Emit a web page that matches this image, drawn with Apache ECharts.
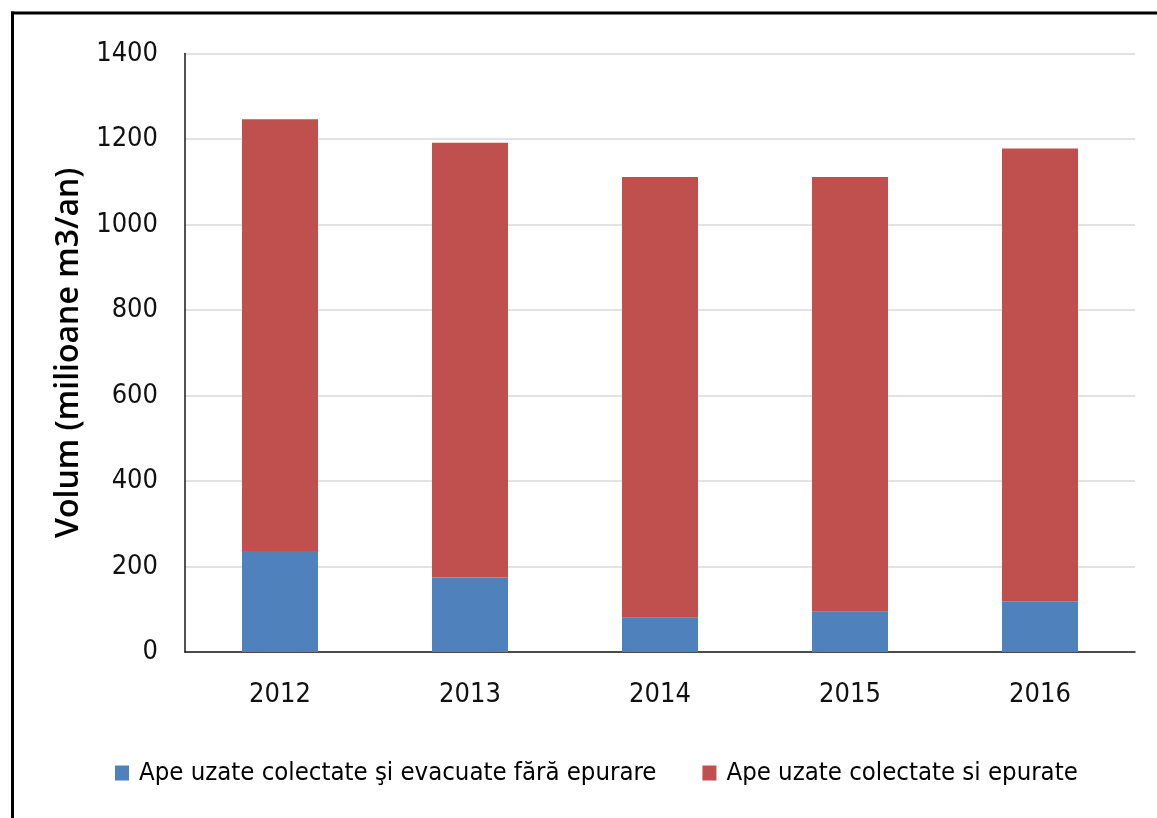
<!DOCTYPE html>
<html>
<head>
<meta charset="utf-8">
<script src="https://cdn.jsdelivr.net/npm/echarts@6/dist/echarts.min.js"></script>
<style>
html,body{margin:0;padding:0;background:#fff;}
#c{width:1157px;height:818px;}
</style>
</head>
<body>
<div id="c"></div>
<script>
const years = ['2012', '2013', '2014', '2015', '2016'];
const untreated = [236, 174, 80, 94, 119];
const treated = [1010, 1017, 1031, 1017, 1059];
const seriesNames = ['Ape uzate colectate şi evacuate fără epurare', 'Ape uzate colectate si epurate'];
const yTicks = [0, 200, 400, 600, 800, 1000, 1200, 1400];
const yTitle = 'Volum (milioane m3/an)';

const chart = echarts.init(document.getElementById('c'), null, {renderer: 'canvas'});
const narrow = '"Liberation Sans Narrow", "DejaVu Sans Condensed", sans-serif';
chart.setOption({
  animation: false,
  backgroundColor: '#ffffff',
  graphic: [
    {type: 'line', shape: {x1: 11, y1: 13, x2: 1157, y2: 13}, style: {stroke: '#000', lineWidth: 3}},
    {type: 'line', shape: {x1: 12.5, y1: 11.5, x2: 12.5, y2: 818}, style: {stroke: '#000', lineWidth: 3}}
  ],
  grid: {left: 185, top: 53.5, right: 22, bottom: 166, containLabel: false},
  legend: {
    left: 110, top: 755,
    itemWidth: 14, itemHeight: 15, itemGap: 46,
    icon: 'rect',
    textStyle: {fontFamily: narrow, fontSize: 25.5, color: '#000', padding: [0, 0, 0, 5]},
    data: seriesNames
  },
  xAxis: {
    type: 'category',
    data: years,
    axisLine: {lineStyle: {color: '#1a1a1a', width: 1.5}},
    axisTick: {show: false},
    axisLabel: {fontFamily: narrow, fontSize: 27, color: '#111', margin: 29}
  },
  yAxis: {
    type: 'value',
    min: yTicks[0], max: yTicks[yTicks.length - 1], interval: 200,
    name: yTitle,
    nameLocation: 'middle',
    nameGap: 76,
    nameTextStyle: {fontFamily: '"Open Sans", sans-serif', fontWeight: 600, fontSize: 32, color: '#000'},
    axisLine: {show: true, lineStyle: {color: '#1a1a1a', width: 1.5}},
    axisTick: {show: false},
    axisLabel: {fontFamily: narrow, fontSize: 27, color: '#111', margin: 27, formatter: v => String(v)},
    splitLine: {lineStyle: {color: '#d9d9d9', width: 1.5}}
  },
  series: [
    {name: seriesNames[0], type: 'bar', stack: 'v', data: untreated, barWidth: '40%',
     itemStyle: {color: '#4f81bd'}},
    {name: seriesNames[1], type: 'bar', stack: 'v', data: treated, barWidth: '40%',
     itemStyle: {color: '#c0504d'}}
  ]
});
</script>
</body>
</html>
